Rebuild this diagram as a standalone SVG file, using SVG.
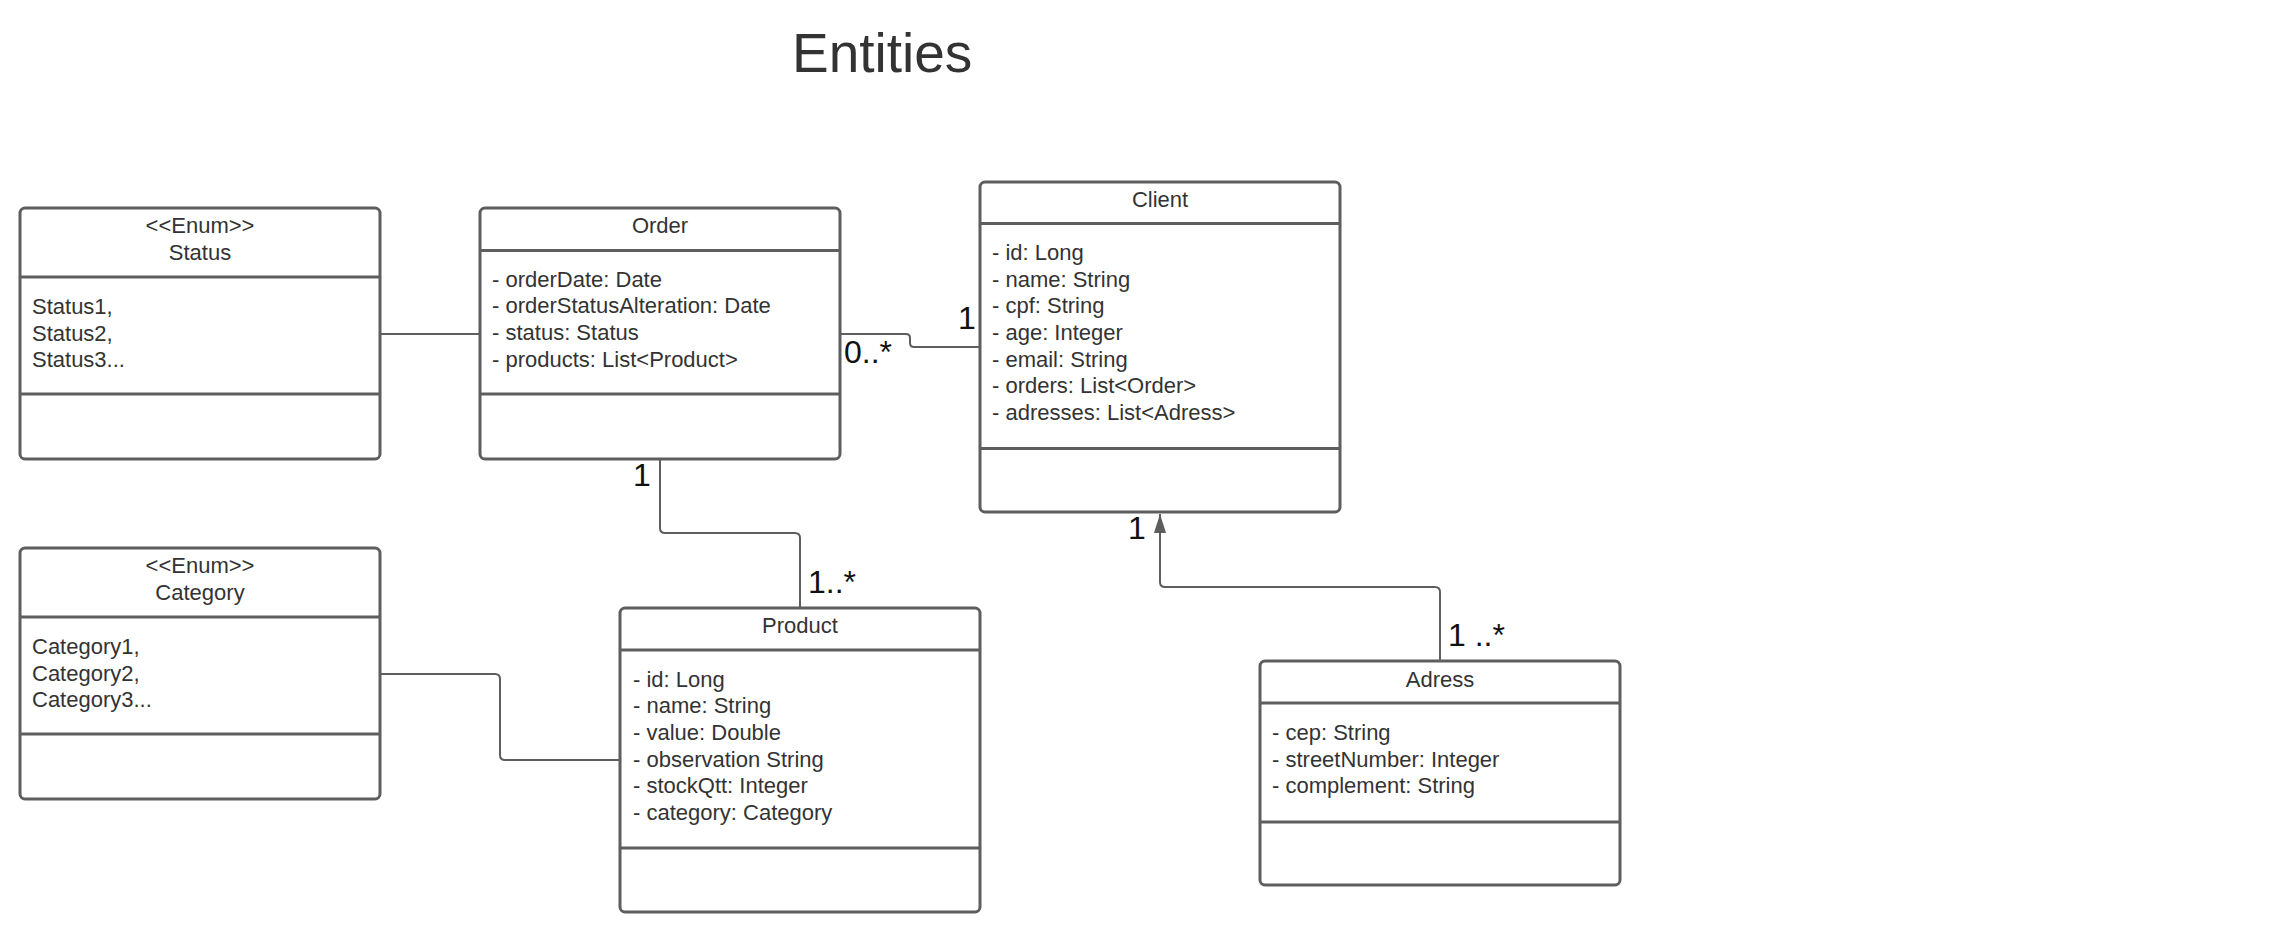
<svg xmlns="http://www.w3.org/2000/svg" width="2285" height="931" viewBox="0 0 2285 931">
<style>
.box{fill:#fff;stroke:#5e5e5e;stroke-width:3}
.div{stroke:#5e5e5e;stroke-width:3}
.t{font-family:"Liberation Sans",Arial,sans-serif;font-size:22px;fill:#333}
.c{text-anchor:middle}
.conn{fill:none;stroke:#5e5e5e;stroke-width:2}
.m{font-family:"Liberation Sans",Arial,sans-serif;font-size:32px;fill:#111}
</style>
<defs>
<marker id="arrow" markerUnits="userSpaceOnUse" markerWidth="20" markerHeight="12" viewBox="0 0 20 12" refX="19" refY="6" orient="auto">
<path d="M0,0 L19,6 L0,12 z" fill="#5e5e5e"/>
</marker>
</defs>
<rect width="2285" height="931" fill="#fff"/>
<text x="792" y="72" font-family="'Liberation Sans',Arial,sans-serif" font-size="55" fill="#333">Entities</text>

<g id="connectors">
<path class="conn" d="M380,334 H480"/>
<path class="conn" d="M840,334 H906 Q910,334 910,338 V343 Q910,347 914,347 H980"/>
<path class="conn" d="M660,459 V528 Q660,533 665,533 H795 Q800,533 800,538 V608"/>
<path class="conn" d="M380,674 H495 Q500,674 500,679 V755 Q500,760 505,760 H620"/>
<path class="conn" d="M1440,661 V592 Q1440,587 1435,587 H1165 Q1160,587 1160,582 V514" marker-end="url(#arrow)"/>
<text class="m" x="844" y="363">0..*</text>
<text class="m" x="958" y="329">1</text>
<text class="m" x="633" y="486">1</text>
<text class="m" x="808" y="593">1..*</text>
<text class="m" x="1128" y="539">1</text>
<text class="m" x="1448" y="646">1 ..*</text>
</g>

<g id="status">
<rect class="box" x="20" y="208" width="360" height="251" rx="5"/>
<line class="div" x1="20" y1="277" x2="380" y2="277"/>
<line class="div" x1="20" y1="394" x2="380" y2="394"/>
<text class="t c" x="200" y="233">&lt;&lt;Enum&gt;&gt;</text>
<text class="t c" x="200" y="260">Status</text>
<text class="t" x="32" y="314">Status1,</text>
<text class="t" x="32" y="341">Status2,</text>
<text class="t" x="32" y="367">Status3...</text>
</g>

<g id="order">
<rect class="box" x="480" y="208" width="360" height="251" rx="5"/>
<line class="div" x1="480" y1="250.5" x2="840" y2="250.5"/>
<line class="div" x1="480" y1="394" x2="840" y2="394"/>
<text class="t c" x="660" y="233">Order</text>
<text class="t" x="492" y="287">- orderDate: Date</text>
<text class="t" x="492" y="313">- orderStatusAlteration: Date</text>
<text class="t" x="492" y="340">- status: Status</text>
<text class="t" x="492" y="367">- products: List&lt;Product&gt;</text>
</g>

<g id="client">
<rect class="box" x="980" y="182" width="360" height="330" rx="5"/>
<line class="div" x1="980" y1="223.5" x2="1340" y2="223.5"/>
<line class="div" x1="980" y1="448.5" x2="1340" y2="448.5"/>
<text class="t c" x="1160" y="207">Client</text>
<text class="t" x="992" y="260">- id: Long</text>
<text class="t" x="992" y="287">- name: String</text>
<text class="t" x="992" y="313">- cpf: String</text>
<text class="t" x="992" y="340">- age: Integer</text>
<text class="t" x="992" y="367">- email: String</text>
<text class="t" x="992" y="393">- orders: List&lt;Order&gt;</text>
<text class="t" x="992" y="420">- adresses: List&lt;Adress&gt;</text>
</g>

<g id="category">
<rect class="box" x="20" y="548" width="360" height="251" rx="5"/>
<line class="div" x1="20" y1="617" x2="380" y2="617"/>
<line class="div" x1="20" y1="734" x2="380" y2="734"/>
<text class="t c" x="200" y="573">&lt;&lt;Enum&gt;&gt;</text>
<text class="t c" x="200" y="600">Category</text>
<text class="t" x="32" y="654">Category1,</text>
<text class="t" x="32" y="681">Category2,</text>
<text class="t" x="32" y="707">Category3...</text>
</g>

<g id="product">
<rect class="box" x="620" y="608" width="360" height="304" rx="5"/>
<line class="div" x1="620" y1="650" x2="980" y2="650"/>
<line class="div" x1="620" y1="848" x2="980" y2="848"/>
<text class="t c" x="800" y="633">Product</text>
<text class="t" x="633" y="687">- id: Long</text>
<text class="t" x="633" y="713">- name: String</text>
<text class="t" x="633" y="740">- value: Double</text>
<text class="t" x="633" y="767">- observation String</text>
<text class="t" x="633" y="793">- stockQtt: Integer</text>
<text class="t" x="633" y="820">- category: Category</text>
</g>

<g id="adress">
<rect class="box" x="1260" y="661" width="360" height="224" rx="5"/>
<line class="div" x1="1260" y1="703" x2="1620" y2="703"/>
<line class="div" x1="1260" y1="822" x2="1620" y2="822"/>
<text class="t c" x="1440" y="687">Adress</text>
<text class="t" x="1272" y="740">- cep: String</text>
<text class="t" x="1272" y="767">- streetNumber: Integer</text>
<text class="t" x="1272" y="793">- complement: String</text>
</g>
</svg>
